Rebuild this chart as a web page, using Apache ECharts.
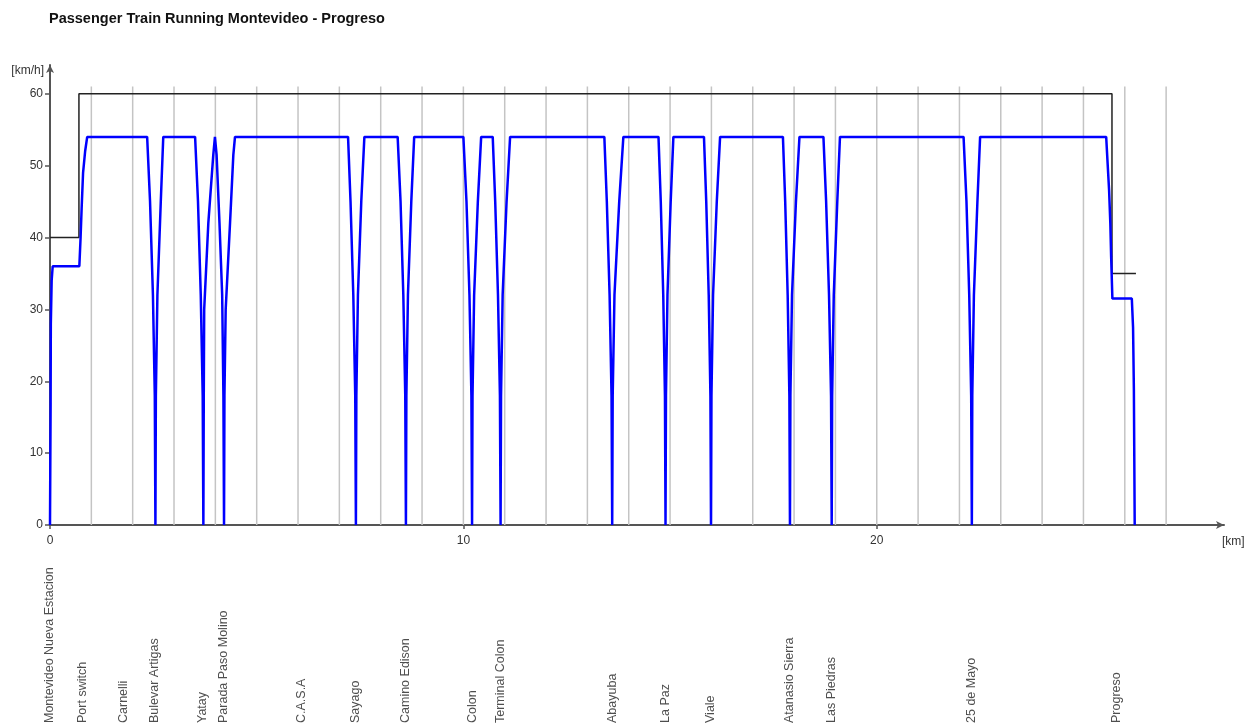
<!DOCTYPE html>
<html>
<head>
<meta charset="utf-8">
<script src="https://cdn.jsdelivr.net/npm/echarts@6/dist/echarts.min.js"></script>
<style>
html,body{margin:0;padding:0;background:#fff;}
#chart{width:1253px;height:727px;}
</style>
</head>
<body>
<div id="chart"></div>
<script>
// ---- data ----
const titleText = 'Passenger Train Running Montevideo - Progreso';
const speedTicks = [0, 10, 20, 30, 40, 50, 60];
const kmTicks = [0, 10, 20];
const kmGridMarks = [1,2,3,4,5,6,7,8,9,10,11,12,13,14,15,16,17,18,19,20,21,22,23,24,25,26,27];
const kmGridTop = 61;

const stationNames = ['Montevideo Nueva Estacion','Port switch','Carnelli','Bulevar Artigas','Yatay','Parada Paso Molino','C.A.S.A','Sayago','Camino Edison','Colon','Terminal Colon','Abayuba','La Paz','Viale','Atanasio Sierra','Las Piedras','25 de Mayo','Progreso'];
const stationKm = [0, 0.79, 1.79, 2.53, 3.70, 4.21, 6.08, 7.40, 8.61, 10.22, 10.90, 13.60, 14.89, 15.99, 17.90, 18.90, 22.30, 25.80];

// permitted speed [km, km/h]
const speedLimit = [[0,40],[0.70,40],[0.70,60],[25.69,60],[25.69,35],[26.27,35]];

// running speed [km, km/h]
const runningSpeed = [
  [0,0],[0.015,17],[0.02,28],[0.04,34],[0.065,36],[0.71,36],[0.74,40],[0.765,44],[0.80,49],[0.85,52],[0.90,54],
  [2.35,54],[2.42,45],[2.49,32],[2.535,18],[2.55,0],[2.561,18],[2.598,32],[2.68,45],[2.74,54],
  [3.51,54],[3.58,45],[3.647,32],[3.694,18],[3.71,0],[3.72,18],[3.73,30],[3.83,42],[3.95,51.5],[3.99,54],
  [4.03,51.5],[4.10,42],[4.165,32],[4.195,18],[4.21,0],[4.22,18],[4.25,30],[4.355,42],[4.435,51.5],[4.475,54],
  [7.21,54],[7.27,45],[7.337,32],[7.384,18],[7.40,0],[7.411,18],[7.449,32],[7.53,45],[7.605,54],
  [8.41,54],[8.48,45],[8.547,32],[8.594,18],[8.61,0],[8.621,18],[8.659,32],[8.74,45],[8.81,54],
  [10.00,54],[10.075,45],[10.147,32],[10.194,18],[10.21,0],[10.221,18],[10.26,32],[10.35,45],[10.43,54],
  [10.71,54],[10.77,45],[10.837,32],[10.884,18],[10.90,0],[10.911,18],[10.95,32],[11.045,45],[11.13,54],
  [13.41,54],[13.47,45],[13.537,32],[13.584,18],[13.60,0],[13.612,18],[13.655,32],[13.77,45],[13.87,54],
  [14.72,54],[14.775,45],[14.835,32],[14.876,18],[14.89,0],[14.901,18],[14.937,32],[15.015,45],[15.08,54],
  [15.82,54],[15.875,45],[15.935,32],[15.976,18],[15.99,0],[16.001,18],[16.04,32],[16.13,45],[16.21,54],
  [17.73,54],[17.785,45],[17.845,32],[17.886,18],[17.90,0],[17.911,18],[17.95,32],[18.045,45],[18.13,54],
  [18.71,54],[18.775,45],[18.845,32],[18.894,18],[18.91,0],[18.921,18],[18.96,32],[19.045,45],[19.11,54],
  [22.10,54],[22.17,45],[22.237,32],[22.284,18],[22.30,0],[22.311,18],[22.35,32],[22.435,45],[22.50,54],
  [25.55,54],[25.58,50.8],[25.62,46.6],[25.65,42],[25.67,37.3],[25.70,31.5],[26.17,31.5],[26.20,27.5],[26.22,18.7],[26.24,0]
];

// ---- build ----
const gridLineData = [];
kmGridMarks.forEach(k => { gridLineData.push([k, 0], [k, kmGridTop], [k, null]); });
const stationData = stationNames.map((n, i) => ({ name: n, value: [stationKm[i], 0] }));

const FONT = '"Liberation Sans", Arial, sans-serif';
const chart = echarts.init(document.getElementById('chart'), null, { renderer: 'canvas' });
chart.setOption({
  animation: false,
  backgroundColor: '#ffffff',
  title: {
    text: titleText, left: 44, top: 6,
    textStyle: { fontFamily: FONT, fontSize: 14.5, fontWeight: 'bold', color: '#111' }
  },
  grid: [
    { left: 50, right: 29, top: 65, bottom: 202 },
    { left: 50, right: 29, top: 700, height: 23 }
  ],
  xAxis: [{
    type: 'value', min: 0, max: 28.4, gridIndex: 0,
    name: '[km]', nameLocation: 'end', nameGap: -2,
    nameTextStyle: { fontFamily: FONT, fontSize: 12, color: '#333', align: 'left', verticalAlign: 'top', padding: [11, 0, 0, 0] },
    axisLine: { show: true, symbol: ['none', 'arrow'], symbolSize: [6, 8], lineStyle: { color: '#555', width: 2 } },
    axisTick: { show: true, length: 4, customValues: kmTicks, lineStyle: { color: '#555', width: 1.5 } },
    axisLabel: { customValues: kmTicks, margin: 10, fontFamily: FONT, fontSize: 12, color: '#333' },
    splitLine: { show: false }
  }, {
    type: 'value', min: 0, max: 28.4, gridIndex: 1, show: false
  }],
  yAxis: [{
    type: 'value', min: 0, max: 64, interval: 10, gridIndex: 0,
    name: '[km/h]', nameLocation: 'end', nameGap: -6,
    nameTextStyle: { fontFamily: FONT, fontSize: 12, color: '#333', align: 'right', verticalAlign: 'middle', padding: [0, 6, 0, 0] },
    axisLine: { show: true, symbol: ['none', 'arrow'], symbolSize: [6, 8], lineStyle: { color: '#555', width: 2 } },
    axisTick: { show: true, length: 5, customValues: speedTicks, lineStyle: { color: '#555', width: 1.5 } },
    axisLabel: { customValues: speedTicks, margin: 7, fontFamily: FONT, fontSize: 12, color: '#333' },
    splitLine: { show: false }
  }, {
    type: 'value', min: 0, max: 1, gridIndex: 1, show: false
  }],
  series: [
    {
      type: 'line', name: 'km marks', data: gridLineData, connectNulls: false,
      showSymbol: false, silent: true, z: 1,
      lineStyle: { color: '#c4c4c4', width: 1.5 }
    },
    {
      type: 'line', name: 'speed limit', data: speedLimit, showSymbol: false, z: 2,
      lineStyle: { color: '#222', width: 1.5 }
    },
    {
      type: 'line', name: 'running speed', data: runningSpeed, showSymbol: false, z: 3,
      lineStyle: { color: '#0000ff', width: 2.5 }
    },
    {
      type: 'scatter', xAxisIndex: 1, yAxisIndex: 1, data: stationData,
      symbolSize: 1, itemStyle: { color: 'rgba(0,0,0,0)' }, silent: true,
      label: {
        show: true, formatter: '{b}', position: 'inside', rotate: 90,
        align: 'left', verticalAlign: 'middle',
        fontFamily: FONT, fontSize: 12.5, color: '#222'
      }
    }
  ]
});
</script>
</body>
</html>
